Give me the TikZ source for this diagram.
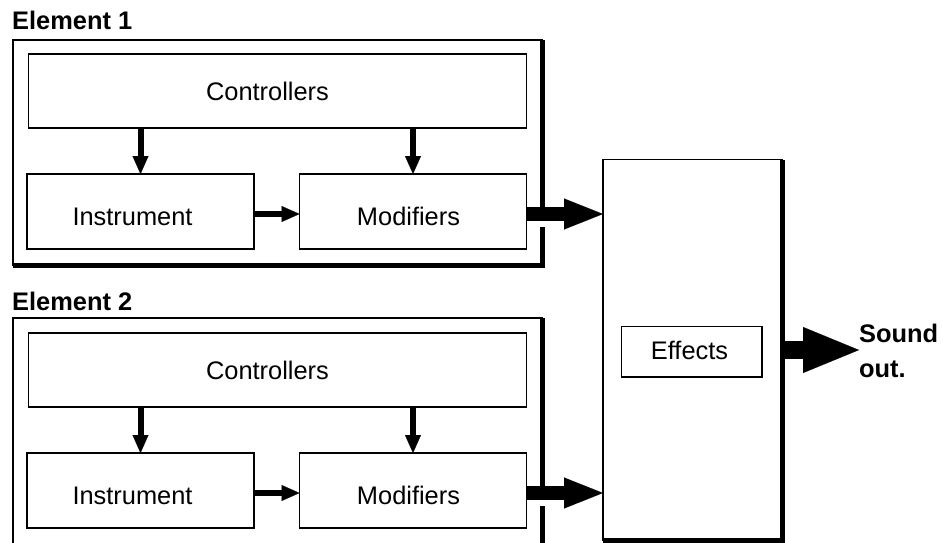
\documentclass[tikz,border=0pt]{standalone}
\usepackage{fontspec}
\setmainfont{Liberation Sans}
\usetikzlibrary{arrows.meta}
\begin{document}
\begin{tikzpicture}[x=1pt,y=-1pt,
  box/.style={draw, line width=1.8pt, inner sep=0pt, outer sep=0pt},
  lbl/.style={inner sep=0pt, font=\fontsize{25.4}{30}\selectfont, anchor=base},
  head/.style={inner sep=0pt, font=\fontsize{25.4}{30}\selectfont\bfseries, anchor=base west},
  thinarrow/.style={line width=6pt, -{Triangle[length=18pt,width=16pt,line width=0.1pt]}},
  bigarrow/.style={line width=14pt, -{Triangle[length=39pt,width=31pt,line width=0.1pt]}},
  outarrow/.style={line width=18pt, -{Triangle[length=56pt,width=46pt,line width=0.1pt]}},
  shadowline/.style={line width=5pt}]
\clip (0,0) rectangle (943,543);
% ---------- Element 1 ----------
\node[head] (t1) at (12,30) {Element 1};
\node[box, minimum width=529.5pt, minimum height=225.5pt] (e1) at (277.75,152.75) {};
\draw[shadowline] (e1.north east) -- (e1.south east) -- (e1.south west);
\node[box, minimum width=498pt, minimum height=74pt] (c1) at (277.5,91) {};
\node[box, minimum width=227pt, minimum height=75pt] (i1) at (140.5,211.5) {};
\node[box, minimum width=227pt, minimum height=75pt] (m1) at (413,211.5) {};
\node[lbl] (c1t) at (267.5,100) {Controllers};
\node[lbl] (i1t) at (132.5,225) {Instrument};
\node[lbl] (m1t) at (408.5,225) {Modifiers};
\draw[thinarrow] (c1.south -| i1.north) -- (i1.north);
\draw[thinarrow] (c1.south -| m1.north) -- (m1.north);
\draw[thinarrow] ([yshift=-2.5pt]i1.east) -- ([yshift=-2.5pt]m1.west);
% ---------- Element 2 ----------
\node[head] (t2) at (12,310) {Element 2};
\node[box, minimum width=529.5pt, minimum height=230pt] (e2) at (277.75,433) {};
\draw[shadowline] (e2.north east) -- (e2.south east) -- (e2.south west);
\node[box, minimum width=498pt, minimum height=74pt] (c2) at (277.5,370) {};
\node[box, minimum width=227pt, minimum height=75pt] (i2) at (140.5,490.5) {};
\node[box, minimum width=227pt, minimum height=75pt] (m2) at (413,490.5) {};
\node[lbl] (c2t) at (267.5,379) {Controllers};
\node[lbl] (i2t) at (132.5,504) {Instrument};
\node[lbl] (m2t) at (408.5,504) {Modifiers};
\draw[thinarrow] (c2.south -| i2.north) -- (i2.north);
\draw[thinarrow] (c2.south -| m2.north) -- (m2.north);
\draw[thinarrow] ([yshift=-2.5pt]i2.east) -- ([yshift=-2.5pt]m2.west);
% ---------- Effects ----------
\node[box, minimum width=179.5pt, minimum height=381pt] (fx) at (692.75,350) {};
\draw[shadowline] (fx.north east) -- (fx.south east) -- (fx.south west);
\node[box, minimum width=140.5pt, minimum height=50.5pt] (fe) at (691.75,351.75) {};
\node[lbl] (fet) at (689.5,359) {Effects};
\node[head] (snd) at (859,342) {Sound};
\node[head] (sndo) at (859,377) {out.};
% ---------- gaps and thick arrows ----------
\fill[white] (537,221) rectangle (548,227);
\fill[white] (537,499) rectangle (548,506);
\draw[bigarrow] ([yshift=-2.5pt]m1.east) -- ([yshift=-2.5pt]m1.east -| fx.west);
\draw[bigarrow] ([yshift=-2.5pt]m2.east) -- ([yshift=-2.5pt]m2.east -| fx.west);
\draw[outarrow] (fx.east) -- (fx.east -| snd.west);
\end{tikzpicture}
\end{document}
